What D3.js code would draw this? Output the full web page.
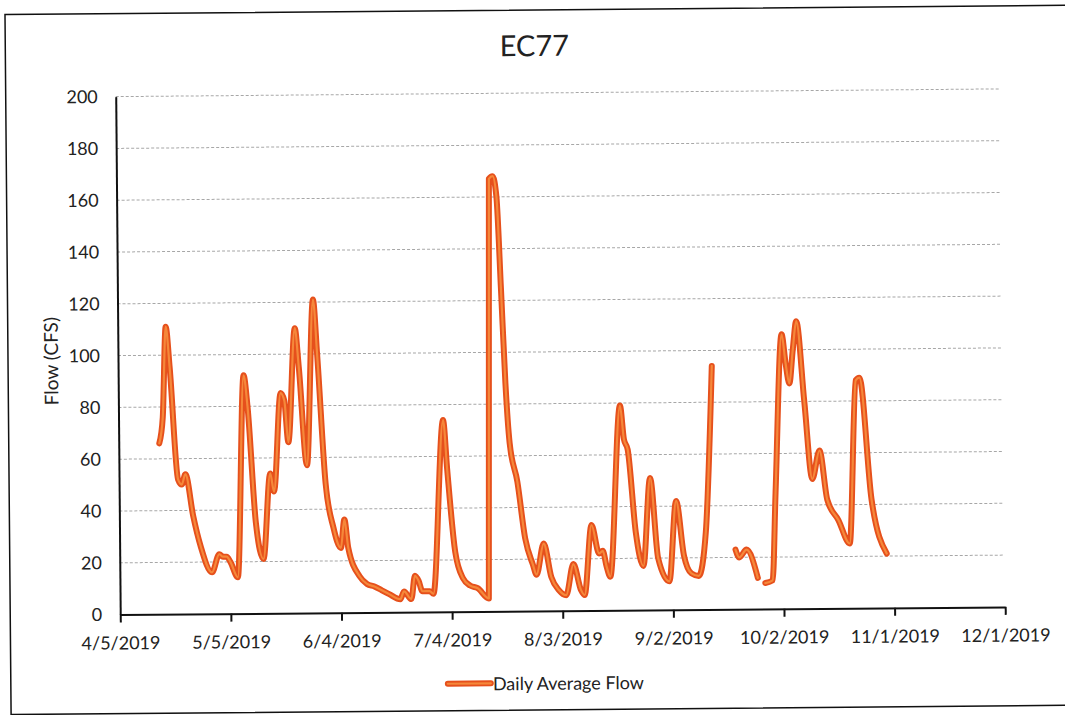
<!DOCTYPE html>
<html>
<head>
<meta charset="utf-8">
<script src="https://cdn.jsdelivr.net/npm/d3@7"></script>
<style>
  body { margin: 0; background: #fff; }
  svg { display: block; }
  text { font-family: Lato, "Open Sans", sans-serif; fill: #222; }
</style>
</head>
<body>
<script>
// chart data (null = gap in the record)
var chartTitle = "EC77";
var yLabel = "Flow (CFS)";
var seriesName = "Daily Average Flow";

var dates = [
  "2019-04-16","2019-04-17","2019-04-18","2019-04-19","2019-04-21","2019-04-22","2019-04-23",
  "2019-04-25","2019-04-27","2019-04-30","2019-05-02","2019-05-03","2019-05-04","2019-05-05",
  "2019-05-07","2019-05-09","2019-05-10","2019-05-12","2019-05-14","2019-05-16","2019-05-17",
  "2019-05-19","2019-05-20","2019-05-21","2019-05-23","2019-05-24","2019-05-26","2019-05-28",
  "2019-05-29","2019-05-31","2019-06-02","2019-06-04","2019-06-05","2019-06-06","2019-06-09",
  "2019-06-11","2019-06-13","2019-06-15","2019-06-17","2019-06-20","2019-06-21","2019-06-23",
  "2019-06-24","2019-06-25","2019-06-26","2019-06-28","2019-06-29","2019-07-02","2019-07-03",
  "2019-07-05","2019-07-07","2019-07-09","2019-07-11","2019-07-14","2019-07-15","2019-07-16",
  "2019-07-17","2019-07-18","2019-07-19","2019-07-20","2019-07-22","2019-07-24","2019-07-26",
  "2019-07-27","2019-07-29","2019-07-31","2019-08-02","2019-08-04","2019-08-06","2019-08-08",
  "2019-08-09","2019-08-11","2019-08-13","2019-08-14","2019-08-15","2019-08-16","2019-08-19",
  "2019-08-20","2019-08-21","2019-08-23","2019-08-25","2019-08-27","2019-08-29","2019-09-01",
  "2019-09-03","2019-09-05","2019-09-07","2019-09-09","2019-09-11","2019-09-13","2019-09-14",
  "2019-09-19","2019-09-20","2019-09-22","2019-09-25","2019-09-26","2019-09-27","2019-09-29",
  "2019-09-30","2019-10-02","2019-10-03","2019-10-04","2019-10-05","2019-10-06","2019-10-08",
  "2019-10-10","2019-10-12","2019-10-14","2019-10-17","2019-10-20","2019-10-22","2019-10-23",
  "2019-10-26","2019-10-30"
];
var flows = [
  66, 76, 111, 95, 52, 50, 54,
  38, 26, 16, 23, 22, 22, 20,
  14, 92, 80, 35, 21, 54, 47,
  85, 82, 66, 110, 95, 57, 121,
  100, 50, 33, 25, 36, 25, 14,
  11, 10, 8.5, 7, 5, 8, 5,
  14, 12, 8, 8, 7, 74, 55,
  23, 13, 10, 9, 5, 167, 168,
  160, 125, 88, 65, 50, 28, 18,
  14, 26, 13, 8, 6, 18, 8,
  6, 33, 22, 23, 17, 13, 79,
  66, 62, 30, 17, 51, 20, 11,
  42, 21, 14, 13, 30, 94, null,
  23, 20, 23, 12, null, 10, 11,
  45, 106, 95, 87, 100, 111, 80,
  50, 61, 42, 34, 25, 88, 89,
  42, 21
];
var xTicks = ["4/5/2019","5/5/2019","6/4/2019","7/4/2019","8/3/2019","9/2/2019","10/2/2019","11/1/2019","12/1/2019"];
var yTicks = [0, 20, 40, 60, 80, 100, 120, 140, 160, 180, 200];

var W = 1065, H = 715;
var margin = {top: 93, right: 62, bottom: 104, left: 118};
var width = W - margin.left - margin.right;
var height = H - margin.top - margin.bottom;

var parse = d3.timeParse("%Y-%m-%d");
var parseTick = d3.timeParse("%-m/%-d/%Y");
var fmt = d3.timeFormat("%-m/%-d/%Y");

var data = dates.map(function(d, i) { return {date: parse(d), v: flows[i]}; });
var tickDates = xTicks.map(function(t) { return parseTick(t); });

var svg = d3.select("body").append("svg")
  .attr("width", W)
  .attr("height", H);

// the scan is slightly skewed, so the whole sheet is turned a little
var page = svg.append("g").attr("transform", "rotate(-0.5,532,357)");

page.append("rect")
  .attr("x", 8).attr("y", 10)
  .attr("width", 1070).attr("height", 700)
  .attr("fill", "none")
  .attr("stroke", "#111")
  .attr("stroke-width", 1.5);

var chart = page.append("g")
  .attr("transform", "translate(" + margin.left + "," + margin.top + ")");

var x = d3.scaleTime()
  .domain([tickDates[0], tickDates[tickDates.length - 1]])
  .range([0, width]);
var y = d3.scaleLinear().domain([0, 200]).range([height, 0]);

// gridlines
chart.append("g")
  .selectAll("line")
  .data(yTicks.slice(1))
  .enter().append("line")
  .attr("x1", 0).attr("x2", width)
  .attr("y1", function(d) { return y(d); })
  .attr("y2", function(d) { return y(d); })
  .attr("stroke", "#8a8a8a")
  .attr("stroke-width", 1)
  .attr("stroke-dasharray", "3,2")
  .attr("opacity", 0.75);

// y axis
var yAxis = chart.append("g")
  .call(d3.axisLeft(y).tickValues(yTicks).tickSize(0).tickPadding(18));
yAxis.select(".domain").attr("stroke", "#111").attr("stroke-width", 2);
yAxis.selectAll("text")
  .attr("font-size", 18)
  .attr("font-family", "Lato, sans-serif")
  .attr("fill", "#222");

// x axis
var xAxis = chart.append("g")
  .attr("transform", "translate(0," + height + ")")
  .call(d3.axisBottom(x).tickValues(tickDates).tickFormat(fmt).tickSize(8).tickSizeOuter(0).tickPadding(14));
xAxis.select(".domain").attr("stroke", "#111").attr("stroke-width", 2);
xAxis.selectAll(".tick line").attr("stroke", "#111").attr("stroke-width", 2);
xAxis.selectAll("text")
  .attr("font-size", 18)
  .attr("font-family", "Lato, sans-serif")
  .attr("fill", "#222");

// flow line
var line = d3.line()
  .defined(function(d) { return d.v !== null; })
  .x(function(d) { return x(d.date); })
  .y(function(d) { return y(d.v); })
  .curve(d3.curveMonotoneX);

chart.append("path")
  .datum(data)
  .attr("fill", "none")
  .attr("stroke", "#e6501c")
  .attr("stroke-width", 6)
  .attr("stroke-linejoin", "round")
  .attr("stroke-linecap", "round")
  .attr("d", line);
chart.append("path")
  .datum(data)
  .attr("fill", "none")
  .attr("stroke", "#f5883a")
  .attr("stroke-width", 2.2)
  .attr("stroke-linejoin", "round")
  .attr("stroke-linecap", "round")
  .attr("d", line);

// title
page.append("text")
  .attr("x", 537).attr("y", 56)
  .attr("text-anchor", "middle")
  .attr("font-size", 29)
  .text(chartTitle);

// y label
page.append("text")
  .attr("transform", "translate(58,357) rotate(-90)")
  .attr("text-anchor", "middle")
  .attr("font-size", 19)
  .text(yLabel);

// legend
var legend = page.append("g").attr("transform", "translate(443,683)");
legend.append("line")
  .attr("x1", 2).attr("x2", 45).attr("y1", 0).attr("y2", 0)
  .attr("stroke", "#e6501c").attr("stroke-width", 6).attr("stroke-linecap", "round");
legend.append("line")
  .attr("x1", 2).attr("x2", 45).attr("y1", 0).attr("y2", 0)
  .attr("stroke", "#f5883a").attr("stroke-width", 2.2).attr("stroke-linecap", "round");
legend.append("text")
  .attr("x", 47).attr("y", 7)
  .attr("font-size", 18)
  .text(seriesName);
</script>
</body>
</html>
